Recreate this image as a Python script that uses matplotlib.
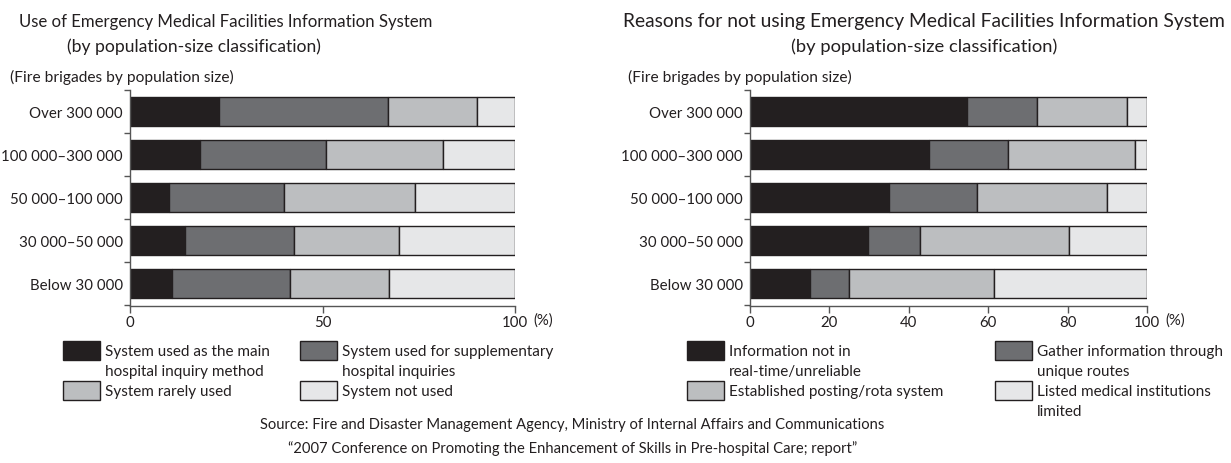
import matplotlib
matplotlib.use("Agg")
import matplotlib.pyplot as plt
from matplotlib.patches import Rectangle
import numpy as np

# ---------------- data ----------------
categories = ["Over 300 000", "100 000\u2013300 000", "50 000\u2013100 000",
              "30 000\u201350 000", "Below 30 000"]

# Left chart: use of the system (%)
use_main = [23.2, 18.1, 10.1, 14.3, 11.0]
use_supp = [43.8, 32.9, 30.0, 28.2, 30.6]
use_rare = [23.0, 30.2, 34.0, 27.3, 25.8]
use_not = [10.0, 18.8, 25.9, 30.2, 32.6]
left_labels = ["System used as the main\nhospital inquiry method",
               "System used for supplementary\nhospital inquiries",
               "System rarely used",
               "System not used"]

# Right chart: reasons for not using (%)
why_unreliable = [54.7, 45.1, 35.1, 29.8, 15.0]
why_unique = [17.7, 20.0, 22.0, 12.9, 9.9]
why_rota = [22.6, 32.0, 32.9, 37.6, 36.5]
why_limited = [5.0, 2.9, 10.0, 19.7, 38.6]
right_labels = ["Information not in\nreal-time/unreliable",
                "Gather information through\nunique routes",
                "Established posting/rota system",
                "Listed medical institutions\nlimited"]

left_xticks = [0, 50, 100]
right_xticks = [0, 20, 40, 60, 80, 100]

colors = ["#231f20", "#6d6e71", "#bcbec0", "#e6e7e8"]
edge = "#231f20"
txt = "#231f20"

plt.rcParams["font.family"] = ["Lato", "DejaVu Sans"]

W, H = 1231, 464
fig = plt.figure(figsize=(W / 100, H / 100), dpi=100)
renderer = fig.canvas.get_renderer()


def fx(px):
    return px / W


def fy(py):
    return 1 - py / H


def fit_text(cx, cy, s, width_px, size=12, ha="center"):
    """Place text and scale its font size so it spans about width_px pixels."""
    t = fig.text(fx(cx), fy(cy), s, ha=ha, va="center", fontsize=size, color=txt)
    w = t.get_window_extent(renderer=renderer).width
    t.set_fontsize(size * width_px / w)
    return t


def make_axes(x0, x1, y0, y1):
    return fig.add_axes([fx(x0), fy(y1), fx(x1 - x0), (y1 - y0) / H])


def draw_stack(ax, series, xticks):
    y = np.arange(len(categories))
    left = np.zeros(len(categories))
    conts = []
    for vals, c in zip(series, colors):
        b = ax.barh(y, vals, left=left, height=0.68, color=c,
                    edgecolor=edge, linewidth=1.0)
        conts.append(b)
        left = left + np.array(vals)
    ax.set_xlim(0, 100)
    ax.set_ylim(4.53, -0.5)
    ax.set_yticks(y)
    ax.set_yticklabels(categories, fontsize=10.8, color=txt)
    ax.set_yticks(np.arange(-0.5, len(categories), 1.0), minor=True)
    ax.tick_params(axis="y", which="major", length=0, pad=5)
    ax.tick_params(axis="y", which="minor", length=4, width=1.0, color="#555555")
    ax.set_xticks(xticks)
    ax.set_xticklabels([str(t) for t in xticks], fontsize=10.8, color=txt)
    ax.tick_params(axis="x", which="major", length=5, width=1.0,
                   color="#555555", pad=1.5)
    for s in ("top", "right"):
        ax.spines[s].set_visible(False)
    for s in ("left", "bottom"):
        ax.spines[s].set_color("#555555")
        ax.spines[s].set_linewidth(1.0)
    ax.annotate("(%)", xy=(1, 0), xycoords="axes fraction",
                xytext=(13, -9.5), textcoords="offset points",
                ha="left", va="center", fontsize=10.8, color=txt)
    return conts


axL = make_axes(130, 515, 91, 307)
contsL = draw_stack(axL, [use_main, use_supp, use_rare, use_not], left_xticks)
axR = make_axes(750, 1147, 91, 307)
contsR = draw_stack(axR, [why_unreliable, why_unique, why_rota, why_limited],
                    right_xticks)

# titles
fit_text(226, 22, "Use of Emergency Medical Facilities Information System", 414)
fit_text(194, 47, "(by population-size classification)", 252)
fit_text(924, 22, "Reasons for not using Emergency Medical Facilities Information System", 602)
fit_text(924, 47, "(by population-size classification)", 265)

fit_text(10, 77, "(Fire brigades by population size)", 222, ha="left")
fit_text(628, 77, "(Fire brigades by population size)", 222, ha="left")


# manual legends
def legend_item(conts, i, label, bx, by):
    fc = conts[i].patches[0].get_facecolor()
    fig.add_artist(Rectangle((fx(bx), fy(by + 19)), fx(37), 19 / H,
                             transform=fig.transFigure, facecolor=fc,
                             edgecolor=edge, linewidth=1.0))
    for k, line in enumerate(label.split("\n")):
        fig.text(fx(bx + 42), fy(by + 10 + 20 * k), line, ha="left",
                 va="center", fontsize=11, color=txt)


legend_item(contsL, 0, left_labels[0], 63, 342)
legend_item(contsL, 1, left_labels[1], 300, 342)
legend_item(contsL, 2, left_labels[2], 63, 382)
legend_item(contsL, 3, left_labels[3], 300, 382)

legend_item(contsR, 0, right_labels[0], 687, 342)
legend_item(contsR, 1, right_labels[1], 995, 342)
legend_item(contsR, 2, right_labels[2], 687, 382)
legend_item(contsR, 3, right_labels[3], 995, 382)

fit_text(572, 425,
         "Source: Fire and Disaster Management Agency, Ministry of Internal Affairs and Communications",
         621)
fit_text(573, 449,
         "\u201c2007 Conference on Promoting the Enhancement of Skills in Pre-hospital Care; report\u201d",
         568)

fig.savefig("out.png", dpi=100, facecolor="white")
